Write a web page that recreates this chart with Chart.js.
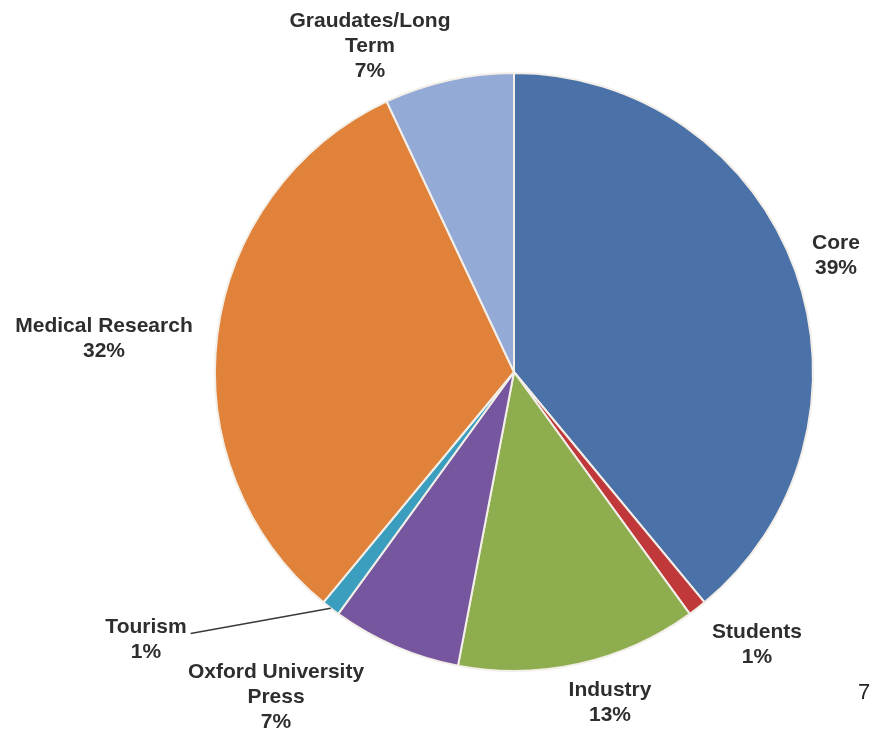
<!DOCTYPE html>
<html>
<head>
<meta charset="utf-8">
<script src="https://cdn.jsdelivr.net/npm/chart.js@4/dist/chart.umd.min.js"></script>
<style>
  html, body { margin: 0; padding: 0; background: #fff; }
  #wrap { width: 894px; height: 731px; position: relative; }
</style>
</head>
<body>
<div id="wrap"><canvas id="funding_chart"></canvas></div>
<script>
// slices, clockwise from 12 o'clock
var categories = ['Core', 'Students', 'Industry', 'Oxford University Press', 'Tourism', 'Medical Research', 'Graudates/Long Term'];
var shares = [39, 1, 13, 7, 1, 32, 7];
// how each category name is broken over lines in the labels
var nameLines = [
  ['Core'],
  ['Students'],
  ['Industry'],
  ['Oxford University', 'Press'],
  ['Tourism'],
  ['Medical Research'],
  ['Graudates/Long', 'Term']
];
var sliceColours = [
  'rgb(74, 114, 168)',
  'rgb(192, 56, 58)',
  'rgb(141, 173, 78)',
  'rgb(118, 86, 158)',
  'rgb(60, 158, 190)',
  'rgb(224, 130, 58)',
  'rgb(148, 170, 214)'
];

// label block centres, as offsets from the pie centre (layout only)
var labelOffsets = [
  [322, -116], [243, 273], [96, 331], [-238, 325], [-368, 268], [-410, -33], [-144, -326]
];
var leaderLines = [false, false, false, false, true, false, false];

const outsideLabels = {
  id: 'outsideLabels',
  afterDraw(chart) {
    const ctx = chart.ctx;
    const arcs = chart.getDatasetMeta(0).data;
    const total = shares.reduce((a, b) => a + b, 0);
    const lineH = 25;
    ctx.save();
    ctx.font = 'bold 21px "Liberation Sans", Arial, sans-serif';
    ctx.fillStyle = '#2e2e2e';
    ctx.textAlign = 'center';
    ctx.textBaseline = 'middle';
    arcs.forEach((arc, i) => {
      const lines = nameLines[i].concat([Math.round(shares[i] / total * 100) + '%']);
      const cx = arc.x + labelOffsets[i][0];
      const cy = arc.y + labelOffsets[i][1];
      const top = cy - (lines.length - 1) * lineH / 2;
      lines.forEach((t, k) => ctx.fillText(t, cx, top + k * lineH));
      if (leaderLines[i]) {
        const mid = (arc.startAngle + arc.endAngle) / 2;
        const ex = arc.x + Math.cos(mid) * arc.outerRadius;
        const ey = arc.y + Math.sin(mid) * arc.outerRadius;
        const w = ctx.measureText(lines[0]).width;
        ctx.strokeStyle = '#3a3a3a';
        ctx.lineWidth = 1.5;
        ctx.beginPath();
        ctx.moveTo(cx + w / 2 + 4, top + 6);
        ctx.lineTo(ex, ey);
        ctx.stroke();
      }
    });
    // page number
    ctx.font = '22px "Liberation Sans", Arial, sans-serif';
    ctx.fillStyle = '#222';
    ctx.fillText('7', 864, 693);
    ctx.restore();
  }
};

const data = {
  labels: categories,
  datasets: [{
    data: shares,
    backgroundColor: sliceColours,
    borderColor: '#f3efe8',
    borderWidth: 2
  }]
};

const config = {
  type: 'pie',
  data: data,
  options: {
    responsive: true,
    maintainAspectRatio: false,
    animation: false,
    layout: { padding: { left: 214, right: 80, top: 72, bottom: 59 } },
    plugins: {
      legend: { display: false },
      tooltip: { enabled: false }
    }
  },
  plugins: [outsideLabels]
};

const myChart = new Chart(document.getElementById('funding_chart'), config);
</script>
</body>
</html>
